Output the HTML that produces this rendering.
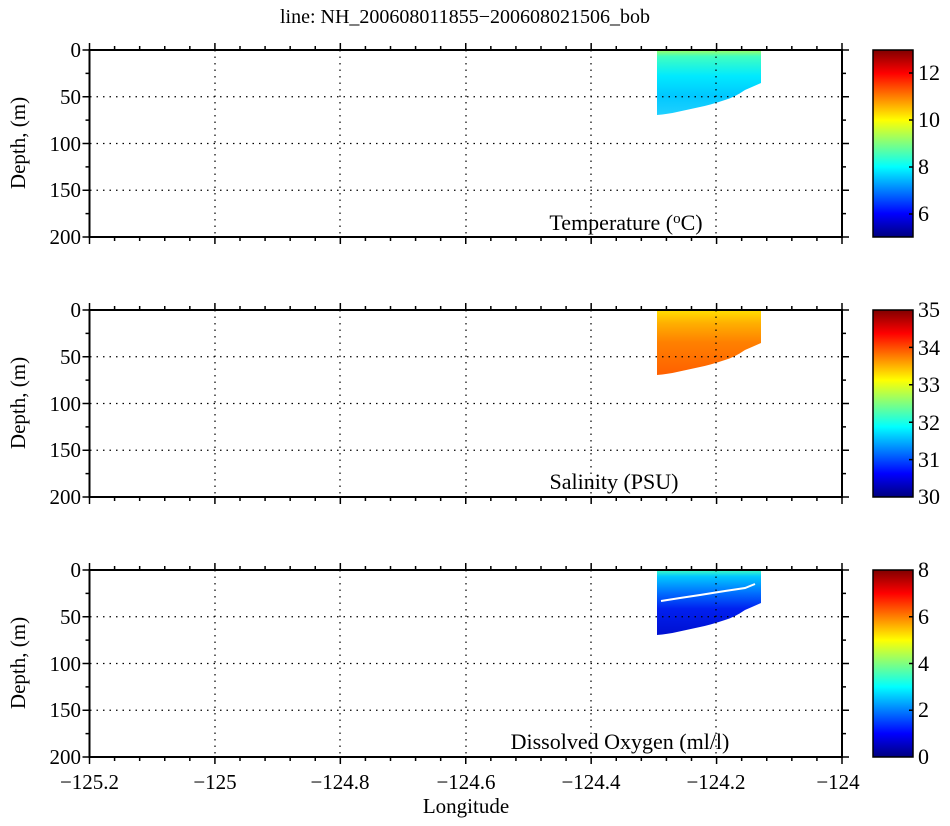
<!DOCTYPE html>
<html><head><meta charset="utf-8"><style>body{margin:0;background:#fff}svg{display:block}svg text{font-family:"Liberation Serif","DejaVu Serif",serif !important;fill:#000}</style></head><body>
<svg width="950" height="826" viewBox="0 0 950 826" xmlns="http://www.w3.org/2000/svg" font-family="Liberation Serif, serif">
<defs>
<linearGradient id="jet" x1="0" y1="1" x2="0" y2="0">
<stop offset="0" stop-color="#000080"/><stop offset="0.125" stop-color="#0000ff"/><stop offset="0.375" stop-color="#00ffff"/><stop offset="0.625" stop-color="#ffff00"/><stop offset="0.875" stop-color="#ff0000"/><stop offset="1" stop-color="#800000"/>
</linearGradient>
<linearGradient id="gT" x1="0" y1="0" x2="0" y2="1"><stop offset="0" stop-color="#a0ff60"/><stop offset="0.1" stop-color="#40ffc0"/><stop offset="0.4" stop-color="#00eaff"/><stop offset="0.7" stop-color="#00c8ff"/><stop offset="1" stop-color="#20d0ff"/></linearGradient>
<linearGradient id="gS" x1="0" y1="0" x2="0" y2="1"><stop offset="0" stop-color="#ffe000"/><stop offset="0.2" stop-color="#ffb000"/><stop offset="0.5" stop-color="#ff8000"/><stop offset="1" stop-color="#ff6000"/></linearGradient>
<linearGradient id="gO" x1="0" y1="0" x2="0" y2="1"><stop offset="0" stop-color="#40ffc0"/><stop offset="0.1" stop-color="#00c8ff"/><stop offset="0.35" stop-color="#0070ff"/><stop offset="0.6" stop-color="#0020f0"/><stop offset="1" stop-color="#0010d0"/></linearGradient>
<g id="frame">
<rect x="89.5" y="0" width="752.5" height="187" fill="none" stroke="#000" stroke-width="2"/>
<g stroke="#000" stroke-width="1.2" stroke-dasharray="1.5,5">
<line x1="215" y1="0" x2="215" y2="187"/><line x1="340" y1="0" x2="340" y2="187"/><line x1="466" y1="0" x2="466" y2="187"/><line x1="591" y1="0" x2="591" y2="187"/><line x1="716" y1="0" x2="716" y2="187"/>
<line x1="90" y1="46.75" x2="842" y2="46.75"/><line x1="90" y1="93.5" x2="842" y2="93.5"/><line x1="90" y1="140.25" x2="842" y2="140.25"/>
</g>
</g>
</defs>
<text x="465" y="23" font-size="20" text-anchor="middle">line: NH_200608011855−200608021506_bob</text>

<g transform="translate(0,50)">
<path d="M657,0 L761,0 L761,33 Q752,37 745,40 Q735,47 725,50 Q710,55 700,57 L677,62 Q668,64 657,65 Z" fill="url(#gT)"/>
</g>
<g transform="translate(0,310)">
<path d="M657,0 L761,0 L761,33 Q752,37 745,40 Q735,47 725,50 Q710,55 700,57 L677,62 Q668,64 657,65 Z" fill="url(#gS)"/>
</g>
<g transform="translate(0,570)">
<path d="M657,0 L761,0 L761,33 Q752,37 745,40 Q735,47 725,50 Q710,55 700,57 L677,62 Q668,64 657,65 Z" fill="url(#gO)"/>
<polyline points="661,31 680,28 700,25 725,21 745,18 755,14" fill="none" stroke="#fff" stroke-width="2"/>
</g>

<g transform="translate(0,50)"><use href="#frame"/></g>
<g transform="translate(0,310)"><use href="#frame"/></g>
<g transform="translate(0,570)"><use href="#frame"/></g>

<g stroke="#000" stroke-width="1.5">
<path id="ticks" d=""/>
</g>
<script>
(function(){
var tops=[50,310,570],d="";
for(var p=0;p<3;p++){var T=tops[p],B=T+187;
for(var i=0;i<=30;i++){var x=89.5+i*752.5/30;var L=(i%5==0)?7:4;d+="M"+x+" "+T+"v-"+L+"M"+x+" "+B+"v"+L;}
for(var j=0;j<=8;j++){var y=T+j*187/8;var L=(j%2==0)?7:4;d+="M89.5 "+y+"h-"+L+"M842 "+y+"h"+L;}}
document.getElementById("ticks").setAttribute("d",d);
})();
</script>

<g font-size="21" text-anchor="end">
<text x="81" y="57">0</text><text x="81" y="104">50</text><text x="81" y="151">100</text><text x="81" y="197">150</text><text x="81" y="244">200</text>
<text x="81" y="317">0</text><text x="81" y="364">50</text><text x="81" y="411">100</text><text x="81" y="457">150</text><text x="81" y="504">200</text>
<text x="81" y="577">0</text><text x="81" y="624">50</text><text x="81" y="671">100</text><text x="81" y="717">150</text><text x="81" y="764">200</text>
</g>
<g font-size="21" text-anchor="middle">
<text transform="translate(25,143) rotate(-90)">Depth, (m)</text>
<text transform="translate(25,403) rotate(-90)">Depth, (m)</text>
<text transform="translate(25,663) rotate(-90)">Depth, (m)</text>
<text x="89.5" y="789">−125.2</text><text x="215" y="789">−125</text><text x="340" y="789">−124.8</text><text x="466" y="789">−124.6</text><text x="591" y="789">−124.4</text><text x="716" y="789">−124.2</text><text x="838" y="789">−124</text>
<text x="466" y="813">Longitude</text>
</g>
<g font-size="22" text-anchor="middle">
<text x="626" y="230">Temperature (<tspan font-size="15" dy="-7">o</tspan><tspan dy="7">C)</tspan></text>
<text x="614" y="489">Salinity (PSU)</text>
<text x="620" y="749">Dissolved Oxygen (ml/l)</text>
</g>

<g stroke="#000" stroke-width="1.5">
<rect x="873" y="50" width="40" height="187" fill="url(#jet)"/>
<rect x="873" y="310" width="40" height="187" fill="url(#jet)"/>
<rect x="873" y="570" width="40" height="187" fill="url(#jet)"/>
<path d="M913 214h-4M913 167h-4M913 120h-4M913 73h-4 M913 459.6h-4M913 422.2h-4M913 384.8h-4M913 347.4h-4 M913 710.25h-4M913 663.5h-4M913 616.75h-4"/>
</g>
<g font-size="22">
<text x="918" y="221">6</text><text x="918" y="174">8</text><text x="918" y="127">10</text><text x="918" y="80">12</text>
<text x="918" y="504">30</text><text x="918" y="467">31</text><text x="918" y="430">32</text><text x="918" y="392">33</text><text x="918" y="355">34</text><text x="918" y="317">35</text>
<text x="918" y="764">0</text><text x="918" y="717">2</text><text x="918" y="671">4</text><text x="918" y="624">6</text><text x="918" y="577">8</text>
</g>
</svg>
</body></html>
